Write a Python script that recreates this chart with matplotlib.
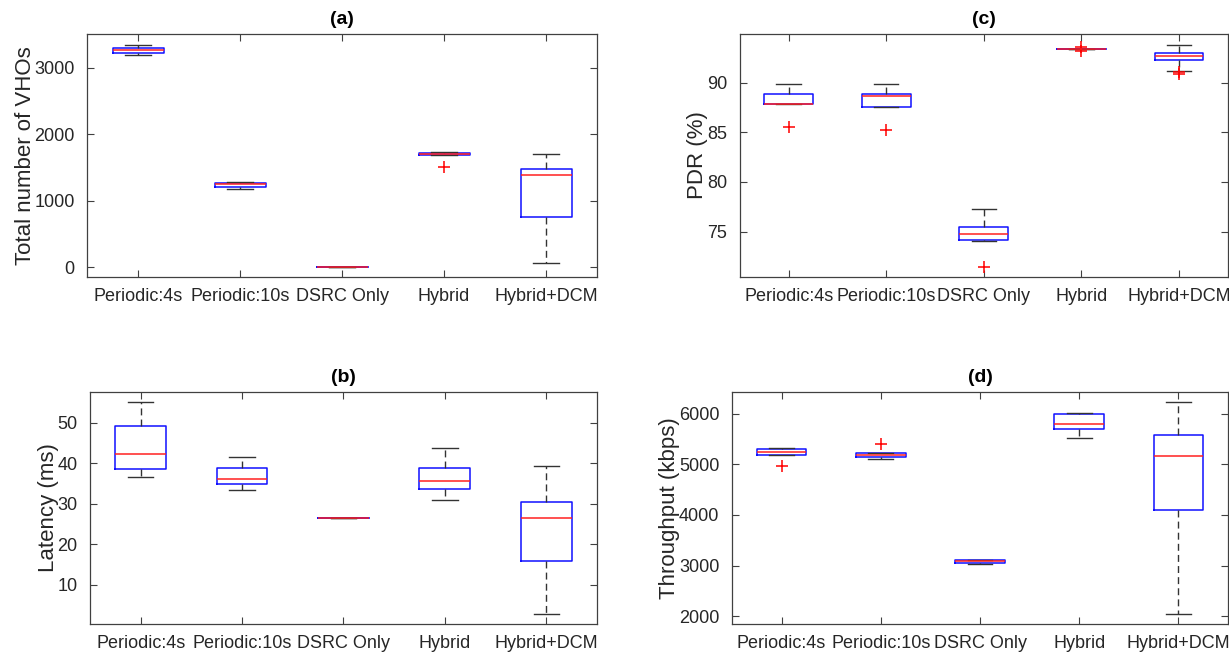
import matplotlib
matplotlib.use("Agg")
import matplotlib.pyplot as plt

categories = ["Periodic:4s", "Periodic:10s", "DSRC Only", "Hybrid", "Hybrid+DCM"]

# (a) Total number of VHOs
a_med = [3261, 1243, 0, 1701, 1379]
a_q1 = [3221, 1198, 0, 1691, 755]
a_q3 = [3291, 1258, 0, 1721, 1480]
a_lo = [3191, 1178, 0, 1691, 65]
a_hi = [3342, 1278, 0, 1736, 1706]
a_fl = [[], [], [], [1510], []]

# (c) PDR (%)
c_med = [87.88, 88.69, 74.76, 93.33, 92.72]
c_q1 = [87.88, 87.54, 74.19, 93.33, 92.22]
c_q3 = [88.82, 88.86, 75.44, 93.36, 92.96]
c_lo = [87.88, 87.54, 74.06, 93.33, 91.18]
c_hi = [89.83, 89.83, 77.22, 93.36, 93.77]
c_fl = [[85.53], [85.19], [71.43], [93.62, 93.2], [91.1, 90.9]]

# (b) Latency (ms)
b_med = [42.2, 36.12, 26.43, 35.63, 26.51]
b_q1 = [38.67, 34.8, 26.43, 33.65, 15.91]
b_q3 = [49.18, 38.91, 26.43, 38.83, 30.37]
b_lo = [36.53, 33.49, 26.43, 30.94, 2.77]
b_hi = [55.09, 41.62, 26.43, 43.68, 39.4]
b_fl = [[], [], [], [], []]

# (d) Throughput (kbps)
d_med = [5233, 5187, 3089, 5790, 5161]
d_q1 = [5174, 5148, 3049, 5705, 4098]
d_q3 = [5305, 5226, 3115, 5993, 5574]
d_lo = [5174, 5102, 3036, 5508, 2046]
d_hi = [5318, 5226, 3115, 6020, 6230]
d_fl = [[4970], [5403], [], [], []]

TXT = "#262626"
plt.rcParams["font.family"] = ["Liberation Sans", "DejaVu Sans"]

fig = plt.figure(figsize=(12.29, 6.56), dpi=100)


def panel(rect, title, ylabel, med, q1, q3, lo, hi, fl, ylim, yticks):
    ax = fig.add_axes(rect)
    stats = []
    for i in range(len(categories)):
        stats.append(dict(med=med[i], q1=q1[i], q3=q3[i], whislo=lo[i],
                          whishi=hi[i], fliers=fl[i], label=categories[i]))
    ax.bxp(stats, positions=range(1, len(categories) + 1), widths=0.5,
           showfliers=True,
           boxprops=dict(color="#1010ff", linewidth=1.1),
           medianprops=dict(color="#ff2020", linewidth=1.1),
           whiskerprops=dict(color="#333333", linewidth=1.0, linestyle=(0, (5, 3))),
           capprops=dict(color="#333333", linewidth=1.0),
           flierprops=dict(marker="+", markeredgecolor="red", markersize=9,
                           markeredgewidth=1.1, linestyle="none"),
           capwidths=0.25)
    ax.set_xlim(0.5, len(categories) + 0.5)
    ax.set_ylim(*ylim)
    ax.set_yticks(yticks)
    ax.set_xticks(range(1, len(categories) + 1))
    ax.set_xticklabels(categories, color=TXT)
    ax.tick_params(axis="both", direction="in", top=True, right=True,
                   length=5, width=0.8, colors="#404040", labelcolor=TXT,
                   labelsize=13)
    ax.tick_params(axis="x", pad=8)
    ax.tick_params(axis="y", pad=9)
    for s in ax.spines.values():
        s.set_color("#404040")
        s.set_linewidth(0.9)
    ax.set_title(title, fontsize=14, fontweight="bold", color="black", pad=7)
    ax.set_ylabel(ylabel, fontsize=16, color=TXT, labelpad=-1)
    return ax


panel([0.0708, 0.5777, 0.415, 0.3704], "(a)", "Total number of VHOs",
      a_med, a_q1, a_q3, a_lo, a_hi, a_fl, (-151, 3508), [0, 1000, 2000, 3000])
panel([0.602, 0.5777, 0.397, 0.3704], "(c)", "PDR (%)",
      c_med, c_q1, c_q3, c_lo, c_hi, c_fl, (70.42, 94.88), [75, 80, 85, 90])
panel([0.0732, 0.0488, 0.4125, 0.3537], "(b)", "Latency (ms)",
      b_med, b_q1, b_q3, b_lo, b_hi, b_fl, (0.31, 57.64), [10, 20, 30, 40, 50])
panel([0.5956, 0.0488, 0.4036, 0.3537], "(d)", "Throughput (kbps)",
      d_med, d_q1, d_q3, d_lo, d_hi, d_fl, (1849, 6426), [2000, 3000, 4000, 5000, 6000])

fig.savefig("out.png", dpi=100)
